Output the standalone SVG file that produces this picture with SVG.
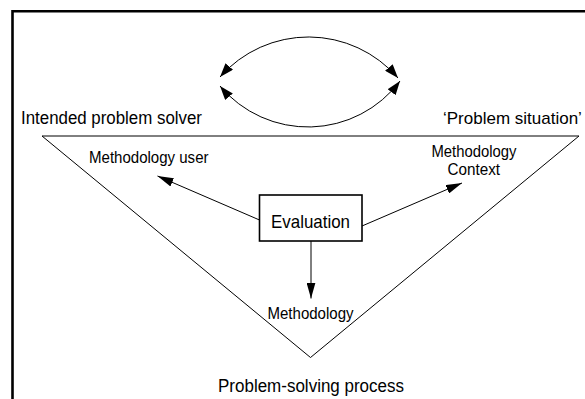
<svg xmlns="http://www.w3.org/2000/svg" width="585" height="399" viewBox="0 0 585 399">
  <style>
    .lbl { font-family: "Liberation Sans", Arial, Helvetica, sans-serif; fill: #000; }
    .edge { fill: none; stroke: #000; stroke-width: 1; }
  </style>
  <defs>
    <marker id="head" viewBox="0 0 16 9" refX="16" refY="4.5" markerWidth="16" markerHeight="9" markerUnits="userSpaceOnUse" orient="auto-start-reverse">
      <path d="M0,0 L16,4.5 L0,9 z" fill="#000"/>
    </marker>
    <marker id="headArc" viewBox="0 0 14 10" refX="14" refY="5" markerWidth="14" markerHeight="10" markerUnits="userSpaceOnUse" orient="auto-start-reverse">
      <path d="M0,0 L14,5 L0,10 z" fill="#000"/>
    </marker>
  </defs>

  <rect width="585" height="399" fill="#fff"/>

  <!-- frame -->
  <path d="M12.5,400 V11.2 H600" fill="none" stroke="#000" stroke-width="2.6"/>

  <!-- problem-solving triangle -->
  <g id="triangle">
    <polygon points="42,136 579,136 310.5,357.5" fill="none" stroke="#000" stroke-width="1"/>
  </g>

  <g id="solver">
    <text class="lbl" x="21" y="123.5" font-size="18" textLength="181" lengthAdjust="spacingAndGlyphs">Intended problem solver</text>
  </g>
  <g id="situation">
    <text class="lbl" x="443" y="123.5" font-size="17">‘Problem situation’</text>
  </g>
  <g id="user">
    <text class="lbl" x="89" y="163.3" font-size="16" textLength="119.5" lengthAdjust="spacingAndGlyphs">Methodology user</text>
  </g>
  <g id="context">
    <text class="lbl" x="431.5" y="156.5" font-size="16" textLength="85" lengthAdjust="spacingAndGlyphs">Methodology</text>
    <text class="lbl" x="447.5" y="175" font-size="16" textLength="52.5" lengthAdjust="spacingAndGlyphs">Context</text>
  </g>
  <g id="evaluation">
    <rect x="259.5" y="195" width="102.5" height="46" fill="#fff" stroke="#000" stroke-width="1.6"/>
    <text class="lbl" x="271" y="228" font-size="19" textLength="79" lengthAdjust="spacingAndGlyphs">Evaluation</text>
  </g>
  <g id="methodology">
    <text class="lbl" x="267.5" y="319" font-size="16" textLength="86" lengthAdjust="spacingAndGlyphs">Methodology</text>
  </g>
  <g id="process">
    <text class="lbl" x="218" y="392" font-size="18" textLength="186" lengthAdjust="spacingAndGlyphs">Problem-solving process</text>
  </g>

  <!-- connectors -->
  <g id="connectors">
    <path class="edge" d="M220,77 A118,118 0 0 1 398,78" marker-start="url(#headArc)" marker-end="url(#headArc)"/>
    <path class="edge" d="M220,86 A115,115 0 0 0 400,81" marker-start="url(#headArc)" marker-end="url(#headArc)"/>
    <line class="edge" x1="259.5" y1="220" x2="157.5" y2="176" marker-end="url(#head)"/>
    <line class="edge" x1="362" y1="226" x2="462" y2="183" marker-end="url(#head)"/>
    <line class="edge" x1="311" y1="241" x2="311" y2="298.5" marker-end="url(#head)"/>
  </g>
</svg>
